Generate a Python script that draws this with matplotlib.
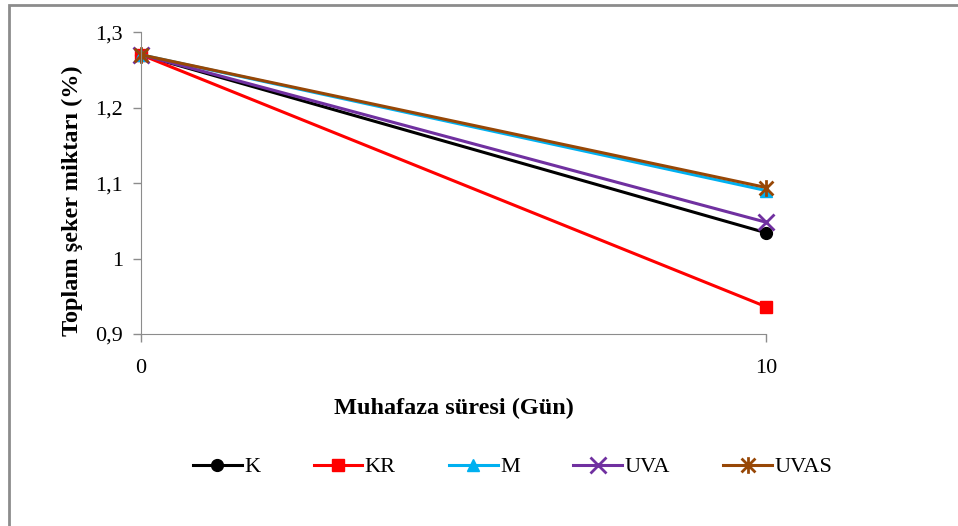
import matplotlib.pyplot as plt
from matplotlib.patches import Rectangle
from matplotlib.path import Path

days = [0, 10]
series_names = ['K', 'KR', 'M', 'UVA', 'UVAS']
k_vals = [1.27, 1.034]
kr_vals = [1.27, 0.936]
m_vals = [1.27, 1.090]
uva_vals = [1.27, 1.048]
uvas_vals = [1.27, 1.094]
y_ticks = [0.9, 1.0, 1.1, 1.2, 1.3]
y_tick_labels = ['0,9', '1', '1,1', '1,2', '1,3']

plt.rcParams['font.family'] = ['Liberation Serif', 'DejaVu Serif']

# excel style star: x plus a vertical bar
star = Path([(-1, -1), (1, 1), (-1, 1), (1, -1), (0, -1.2), (0, 1.2)],
            [Path.MOVETO, Path.LINETO, Path.MOVETO, Path.LINETO, Path.MOVETO, Path.LINETO])

fig = plt.figure(figsize=(9.58, 5.26), dpi=100)
ax = fig.add_axes([0.147, 0.365, 0.653, 0.574])

styles = [
    (k_vals, '#000000', 'o', 8.5),
    (kr_vals, '#FF0000', 's', 8.5),
    (m_vals, '#00B0F0', '^', 8.5),
    (uva_vals, '#7030A0', 'x', 11),
    (uvas_vals, '#974706', star, 12),
]
for name, (vals, col, mk, ms) in zip(series_names, styles):
    ax.plot(days, vals, color=col, lw=2.2, marker=mk, ms=ms, mew=2 if name in ('UVA', 'UVAS') else 1,
            mfc=col, mec=col, label=name, clip_on=False)

ax.set_xlim(0, 10)
ax.set_ylim(0.9, 1.3)
ax.set_xticks(days)
ax.set_xticklabels([str(d) for d in days], fontsize=16)
ax.set_yticks(y_ticks)
ax.set_yticklabels(y_tick_labels, fontsize=16)
for s in ['top', 'right']:
    ax.spines[s].set_visible(False)
for s in ['left', 'bottom']:
    ax.spines[s].set_color('#8c8c8c')
ax.tick_params(colors='#8c8c8c', labelcolor='black', length=6, width=1)
ax.tick_params(axis='y', pad=7)
ax.tick_params(axis='x', pad=12)

ax.set_xlabel('Muhafaza süresi (Gün)', fontsize=17.5, fontweight='bold', labelpad=14)
ax.set_ylabel('Toplam şeker miktarı (%)', fontsize=17.5, fontweight='bold')
ax.yaxis.set_label_coords(-0.093, 0.44)

fig.legend(loc='center', bbox_to_anchor=(0.535, 1 - 467 / 526), ncol=5, frameon=False,
           fontsize=16, handlelength=2.2, columnspacing=2.4, handletextpad=0.1)

fig.patches.append(Rectangle((9 / 958, -0.05), 1.1, 1 - 5 / 526 + 0.05, transform=fig.transFigure,
                             fill=False, edgecolor='#8c8c8c', lw=2))

fig.savefig('out.png', dpi=100)
